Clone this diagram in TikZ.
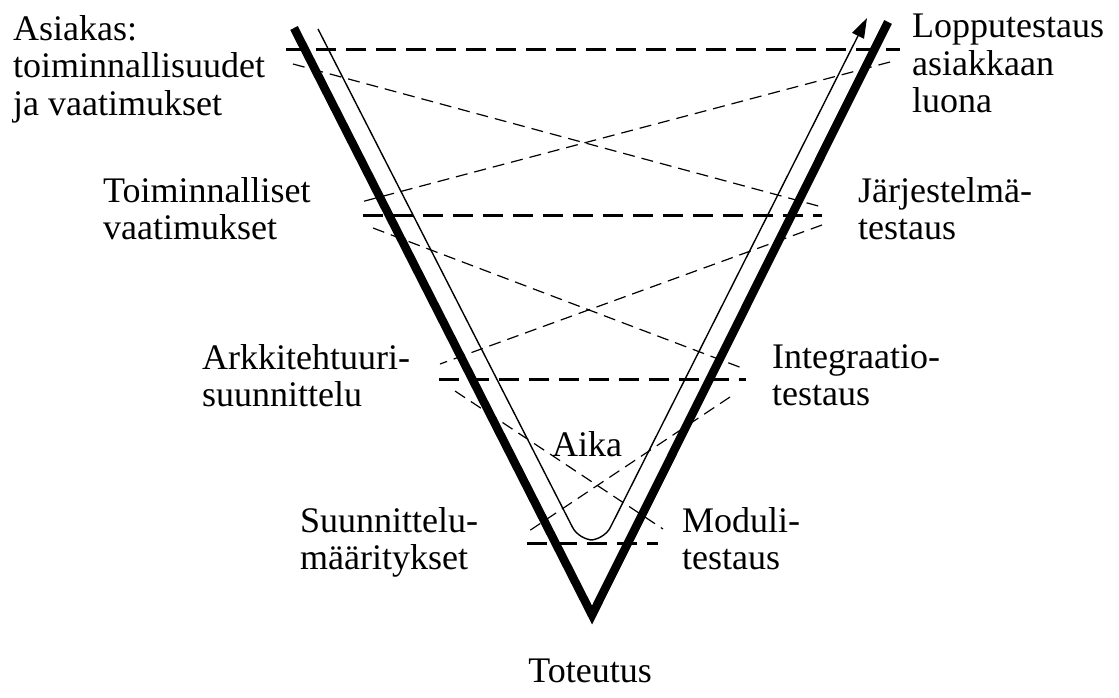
\documentclass[tikz,border=0pt]{standalone}
\usepackage{fontspec}
\setmainfont{Liberation Serif}
\usetikzlibrary{arrows.meta}

\begin{document}
\begin{tikzpicture}[x=1pt, y=-1pt,
  lab/.style={anchor=north west, align=left, inner sep=0pt, font=\fontsize{36}{37.5}\selectfont},
  vee/.style={line width=8.5pt, miter limit=10},
  aikaviiva/.style={line width=1.4pt, rounded corners=14pt, -{Triangle[length=20pt,width=13pt]}},
  taso/.style={line width=3pt, dash pattern=on 20pt off 10pt},
  vastaa/.style={line width=1.2pt, dash pattern=on 12pt off 7pt}]
  \useasboundingbox (0,0) rectangle (1119,698);

  % labels
  \node[lab] (asiakas) at (13,15) {Asiakas:\\toiminnallisuudet\\ja vaatimukset};
  \node[lab] (loppu) at (912,14) {Lopputestaus\\asiakkaan\\luona};
  \node[lab] (toimvaat) at (103,177) {Toiminnalliset\\vaatimukset};
  \node[lab] (jarjtest) at (858,177) {Järjestelmä-\\testaus};
  \node[lab] (arkki) at (202,344) {Arkkitehtuuri-\\suunnittelu};
  \node[lab] (integ) at (772,344) {Integraatio-\\testaus};
  \node[lab] (suunn) at (300,507) {Suunnittelu-\\määritykset};
  \node[lab] (moduli) at (682,507) {Moduli-\\testaus};
  \node[lab, anchor=north] (aika) at (587,431) {Aika};
  \node[lab, anchor=north] (toteutus) at (590,659) {Toteutus};

  % the V and the time line
  \coordinate (vl) at (294,28);
  \coordinate (vb) at (592,615);
  \coordinate (vr) at (888,22);
  \draw[vee] (vl) -- (vb) -- (vr);
  \coordinate (al) at (318,29);
  \coordinate (ar) at (867,18);
  \draw[aikaviiva] (al) -- (579,540) -- (604,540) -- (ar);

  % levels
  \coordinate (t1l) at (286,50);  \coordinate (t1r) at (900,50);
  \coordinate (t2l) at (363,215); \coordinate (t2r) at (822,215);
  \coordinate (t3l) at (439,379); \coordinate (t3r) at (746,379);
  \coordinate (t4l) at (527,543); \coordinate (t4r) at (658,543);
  \draw[taso] (t1l) -- (t1r);
  \draw[taso] (t2l) -- (t2r);
  \draw[taso] (t3l) -- (t3r);
  \draw[taso] (t4l) -- (t4r);

  % correspondences
  \draw[vastaa] (293,64) -- (822,207);
  \draw[vastaa] (890,62) -- (361,202);
  \draw[vastaa] (373,228) -- (742,368);
  \draw[vastaa] (822,225) -- (440,364);
  \draw[vastaa] (455,391) -- (663,529);
  \draw[vastaa] (730,397) -- (526,533);
\end{tikzpicture}
\end{document}
